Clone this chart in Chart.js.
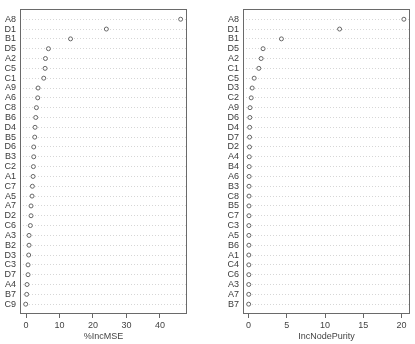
<!DOCTYPE html>
<html>
<head>
<meta charset="utf-8">
<script src="https://cdn.jsdelivr.net/npm/chart.js@4.4.0/dist/chart.umd.min.js"></script>
<style>
    body { margin: 0; background: #fff; }
    .panel { position: absolute; top: 0; height: 344px; }
    #left { left: 0; width: 195px; }
    #right { left: 205px; width: 210px; }
</style>
</head>
<body>
<div class="panel" id="left"><canvas id="mse"></canvas></div>
<div class="panel" id="right"><canvas id="purity"></canvas></div>
<script>
// variable importance, sorted as in the plot (top to bottom)
const mseLabels = ['A8','D1','B1','D5','A2','C5','C1','A9','A6','C8','B6','D4','B5','D6','B3','C2','A1','C7','A5','A7','D2','C6','A3','B2','D3','C3','D7','A4','B7','C9'];
const mseValues = [46.2,24.0,13.3,6.7,5.8,5.7,5.3,3.6,3.5,3.1,2.9,2.7,2.6,2.3,2.3,2.2,2.1,1.9,1.8,1.5,1.5,1.3,0.9,0.9,0.8,0.6,0.6,0.3,0.2,-0.1];
const mseTicks = [0, 10, 20, 30, 40];

const purityLabels = ['A8','D1','B1','D5','A2','C1','C5','D3','C2','A9','D6','D4','D7','D2','A4','B4','A6','B3','C8','B5','C7','C3','A5','B6','A1','C4','C6','A3','A7','B7'];
const purityValues = [20.3,11.9,4.3,1.9,1.65,1.35,0.74,0.48,0.35,0.2,0.18,0.15,0.14,0.13,0.1,0.09,0.08,0.07,0.07,0.06,0.06,0.05,0.05,0.05,0.04,0.04,0.04,0.03,0.03,0.02];
const purityTicks = [0, 5, 10, 15, 20];

const FONT = "'Liberation Sans', Arial, sans-serif";

// draws the full box round the plot area, like R's box()
const boxPlugin = {
    id: 'box',
    afterDraw(chart) {
        const a = chart.chartArea;
        const ctx = chart.ctx;
        ctx.save();
        ctx.strokeStyle = '#6a6a6a';
        ctx.lineWidth = 1;
        ctx.strokeRect(Math.round(a.left) + 0.5, Math.round(a.top) + 0.5,
            Math.round(a.right - a.left) - 1, Math.round(a.bottom - a.top) - 1);
        ctx.restore();
    }
};

function dotChart(id, labels, values, ticks, xMin, xMax, title, axisWidth, padRight) {
    const ctx = document.getElementById(id).getContext('2d');
    return new Chart(ctx, {
        type: 'scatter',
        data: {
            datasets: [{
                data: values.map((v, i) => ({ x: v, y: i + 1 })),
                pointRadius: 2,
                pointBorderWidth: 1,
                pointBorderColor: '#666',
                pointBackgroundColor: '#fff'
            }]
        },
        options: {
            responsive: true,
            maintainAspectRatio: false,
            animation: false,
            layout: { padding: { top: 1, right: padRight, bottom: 0, left: 0 } },
            plugins: {
                legend: { display: false },
                tooltip: { enabled: false }
            },
            scales: {
                x: {
                    type: 'linear',
                    min: xMin,
                    max: xMax,
                    afterBuildTicks: scale => { scale.ticks = ticks.map(v => ({ value: v })); },
                    afterFit: scale => { scale.height = 30; },
                    grid: { drawOnChartArea: false, drawTicks: true, tickLength: 4, color: '#666' },
                    border: { display: false },
                    ticks: { font: { family: FONT, size: 9 }, color: '#444', padding: 2, maxRotation: 0 },
                    title: {
                        display: true,
                        text: title,
                        font: { family: FONT, size: 9 },
                        color: '#444',
                        padding: { top: 0, bottom: 2 }
                    }
                },
                y: {
                    type: 'linear',
                    reverse: true,
                    min: 0,
                    max: labels.length + 1,
                    afterBuildTicks: scale => { scale.ticks = labels.map((l, i) => ({ value: i + 1 })); },
                    afterFit: scale => { scale.width = axisWidth; },
                    grid: { drawTicks: false, color: '#d6d6d6', lineWidth: 1 },
                    border: { display: false, dash: [1, 2] },
                    ticks: {
                        font: { family: FONT, size: 9 },
                        color: '#3a3a3a',
                        padding: 4,
                        autoSkip: false,
                        callback: v => labels[v - 1]
                    }
                }
            }
        },
        plugins: [boxPlugin]
    });
}

dotChart('mse', mseLabels, mseValues, mseTicks, -1.8, 48.1, '%IncMSE', 20, 8);
dotChart('purity', purityLabels, purityValues, purityTicks, -0.72, 21.1, 'IncNodePurity', 38, 5);
</script>
</body>
</html>
